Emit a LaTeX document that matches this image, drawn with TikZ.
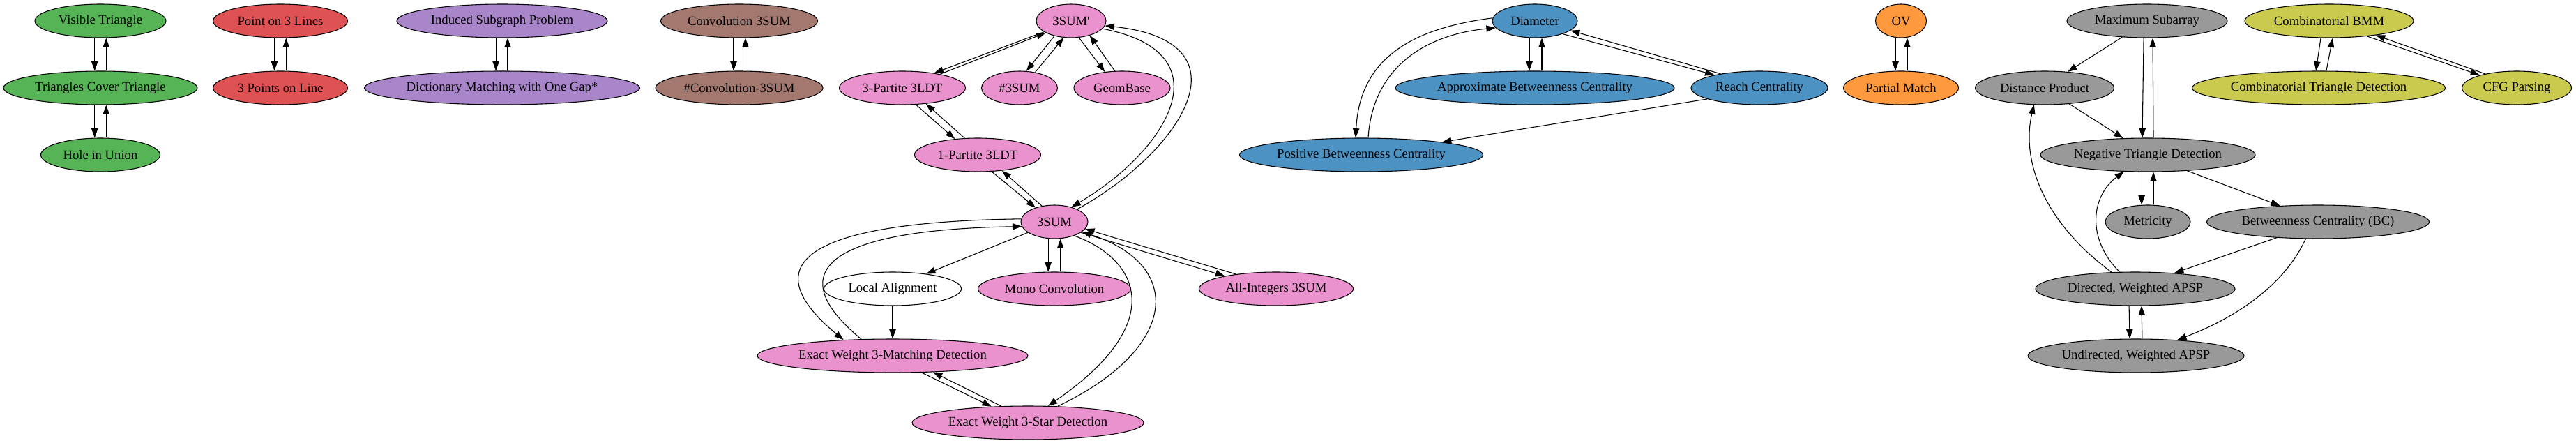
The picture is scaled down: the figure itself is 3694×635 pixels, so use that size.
\documentclass[tikz,border=0pt]{standalone}
\usepackage{fontspec}
\setmainfont{Liberation Serif}
\usepackage{tikz}
\usetikzlibrary{arrows.meta,shapes.geometric}

\definecolor{grn}{RGB}{86,179,86}
\definecolor{rd}{RGB}{222,82,83}
\definecolor{prp}{RGB}{169,133,202}
\definecolor{brn}{RGB}{163,120,111}
\definecolor{pnk}{RGB}{233,146,206}
\definecolor{blu}{RGB}{76,146,195}
\definecolor{org}{RGB}{255,153,62}
\definecolor{gry}{RGB}{153,153,153}
\definecolor{olv}{RGB}{201,202,78}

\begin{document}
\begin{tikzpicture}[>={Triangle[length=10pt,width=7pt]}, x=0.75pt, y=-0.75pt, line width=0.8pt,
		prob/.style={ellipse, draw, inner sep=0pt, minimum height=36pt, font=\fontsize{14}{16}\selectfont},
		fam/.style={prob, fill=#1},
		wd/.style={minimum width=#1*0.75pt}]
		\useasboundingbox (0,0) rectangle (3694,635);
		%\draw [help lines] (0,0) grid[step=96] (3694,635);
		% green
		\node[fam=grn, wd=188] (vis) at (144,30) {Visible Triangle};
		\node[fam=grn, wd=278] (tcov) at (144,126) {Triangles Cover Triangle};
		\node[fam=grn, wd=171] (hole) at (144,222) {Hole in Union};
		% red
		\node[fam=rd, wd=193] (pt3) at (402,30) {Point on 3 Lines};
		\node[fam=rd, wd=193] (pts3) at (402,126) {3 Points on Line};
		% purple
		\node[fam=prp, wd=302] (isp) at (720,30) {Induced Subgraph Problem};
		\node[fam=prp, wd=395] (dmg) at (720,126) {Dictionary Matching with One Gap*};
		% brown
		\node[fam=brn, wd=225] (conv) at (1060,30) {Convolution 3SUM};
		\node[fam=brn, wd=240] (nconv) at (1060,126) {\#Convolution-3SUM};
		% pink
		\node[fam=pnk, wd=100] (sump) at (1536,30) {3SUM\textquotesingle};
		\node[fam=pnk, wd=181] (tpart) at (1294,126) {3-Partite 3LDT};
		\node[fam=pnk, wd=109] (nsum) at (1462,126) {\#3SUM};
		\node[fam=pnk, wd=138] (geom) at (1609,126) {GeomBase};
		\node[fam=pnk, wd=181] (opart) at (1402,222) {1-Partite 3LDT};
		\node[fam=pnk, wd=96] (sum) at (1512,318) {3SUM};
		\node[fam=white, wd=197] (local) at (1280,414) {Local Alignment};
		\node[fam=pnk, wd=219] (mono) at (1512,414) {Mono Convolution};
		\node[fam=pnk, wd=221] (allint) at (1830,414) {All-Integers 3SUM};
		\node[fam=pnk, wd=388] (match) at (1280,510) {Exact Weight 3-Matching Detection};
		\node[fam=pnk, wd=332] (star) at (1474,606) {Exact Weight 3-Star Detection};
		% blue
		\node[fam=blu, wd=122] (diam) at (2201,30) {Diameter};
		\node[fam=blu, wd=400] (abc) at (2201,126) {Approximate Betweenness Centrality};
		\node[fam=blu, wd=196] (reach) at (2523,126) {Reach Centrality};
		\node[fam=blu, wd=349] (pbc) at (1952,222) {Positive Betweenness Centrality};
		% orange
		\node[fam=org, wd=73] (ov) at (2726,30) {OV};
		\node[fam=org, wd=165] (pm) at (2726,126) {Partial Match};
		% gray
		\node[fam=gry, wd=230] (msa) at (3079,30) {Maximum Subarray};
		\node[fam=gry, wd=199] (dp) at (2932,126) {Distance Product};
		\node[fam=gry, wd=308] (ntd) at (3080,222) {Negative Triangle Detection};
		\node[fam=gry, wd=122] (met) at (3080,318) {Metricity};
		\node[fam=gry, wd=319] (bc) at (3324,318) {Betweenness Centrality (BC)};
		\node[fam=gry, wd=286] (dapsp) at (3062,414) {Directed, Weighted APSP};
		\node[fam=gry, wd=310] (uapsp) at (3063,510) {Undirected, Weighted APSP};
		% olive
		\node[fam=olv, wd=242] (bmm) at (3340,30) {Combinatorial BMM};
		\node[fam=olv, wd=363] (ctd) at (3325,126) {Combinatorial Triangle Detection};
		\node[fam=olv, wd=157] (cfg) at (3609,126) {CFG Parsing};

		% edges, left to right
		\draw [->] ([xshift=-6.2pt]vis.south) -- ([xshift=-6.2pt]tcov.north);
		\draw [->] ([xshift=6.2pt]tcov.north) -- ([xshift=6.2pt]vis.south);
		\draw [->] ([xshift=-6.2pt]tcov.south) -- ([xshift=-6.2pt]hole.north);
		\draw [->] ([xshift=6.2pt]hole.north) -- ([xshift=6.2pt]tcov.south);
		\draw [->] ([xshift=-6.4pt]pt3.south) -- ([xshift=-6.4pt]pts3.north);
		\draw [->] ([xshift=6.2pt]pts3.north) -- ([xshift=6.2pt]pt3.south);
		\draw [->] ([xshift=-6.7pt]isp.south) -- ([xshift=-6.7pt]dmg.north);
		\draw [->] ([xshift=6pt]dmg.north) -- ([xshift=6pt]isp.south);
		\draw [->] ([xshift=-6pt]conv.south) -- ([xshift=-6pt]nconv.north);
		\draw [->] ([xshift=6.7pt]nconv.north) -- ([xshift=6.7pt]conv.south);

		\draw [->] (sump.202) -- (tpart.25);
		\draw [->] (tpart.20) -- (sump.205);
		\draw [->] (sump.222) -- (nsum.68);
		\draw [->] (nsum.45) -- (sump.246);
		\draw [->] (sump.295) -- (geom.137);
		\draw [->] (geom.113) -- (sump.322);
		\draw [->] (tpart.309) -- (opart.145);
		\draw [->] (opart.128) -- (tpart.326);
		\draw [->] (opart.310) -- (sum.143);
		\draw [->] (sum.128) -- (opart.327);
		\draw [->] (sump.346) .. controls (1760,75) and (1675,215) .. (sum.41);
		\draw [->] (sum.29) .. controls (1690,220) and (1800,60) .. (sump.352);
		\draw [->] (sum.202) -- (local.24);
		\draw [->] ([xshift=-6.7pt]sum.south) -- ([xshift=-6.7pt]mono.north);
		\draw [->] ([xshift=6.5pt]mono.north) -- ([xshift=6.5pt]sum.south);
		\draw [->] (sum.338) -- (allint.166);
		\draw [->] (allint.160) -- (sum.347);
		\draw [->] (local) -- (match);
		\draw [->] (sum.175) .. controls (1150,318) and (1080,380) .. (match.162);
		\draw [->] (match.152) .. controls (1130,400) and (1160,330) .. (sum.188);
		\draw [->] (match.330) -- (star.156);
		\draw [->] (star.148) -- (match.338);
		\draw [->] (sum.325) .. controls (1630,370) and (1680,460) .. (star.40);
		\draw [->] (star.29) .. controls (1690,500) and (1700,380) .. (sum.340);

		\draw [->] (diam.176) .. controls (2030,40) and (1950,80) .. ([xshift=-6pt]pbc.north);
		\draw [->] ([xshift=7.5pt]pbc.north) .. controls (1968,100) and (2040,50) .. (diam.190);
		\draw [->] ([xshift=-6pt]diam.south) -- ([xshift=-6pt]abc.north);
		\draw [->] ([xshift=7.5pt]abc.north) -- ([xshift=7.5pt]diam.south);
		\draw [->] (diam.335) -- (reach.164);
		\draw [->] (reach.160) -- (diam.345);
		\draw [->] (reach.192) -- (pbc.9);

		\draw [->] ([xshift=-6pt]ov.south) -- ([xshift=-6pt]pm.north);
		\draw [->] ([xshift=6.7pt]pm.north) -- ([xshift=6.7pt]ov.south);

		\draw [->] (msa.213) -- (dp.35);
		\draw [->] ([xshift=-3.7pt]msa.south) -- ([xshift=-6pt]ntd.north);
		\draw [->] ([xshift=6pt]ntd.north) -- ([xshift=6pt]msa.south);
		\draw [->] (dp.327) -- (ntd.146);
		\draw [->] ([xshift=-6.7pt]ntd.south) -- ([xshift=-6.7pt]met.north);
		\draw [->] ([xshift=6pt]met.north) -- ([xshift=6pt]ntd.south);
		\draw [->] (ntd.338) -- (bc.157);
		\draw [->] (bc.201) -- (dapsp.22);
		\draw [->] (bc.234) .. controls (3280,400) and (3220,450) .. (uapsp.21);
		\draw [->] (dapsp.145) .. controls (2920,310) and (2900,220) .. (dp.238);
		\draw [->] (dapsp.133) .. controls (2990,340) and (3000,280) .. (ntd.215);
		\draw [->] ([xshift=-6.7pt]dapsp.south) -- ([xshift=-6.7pt]uapsp.north);
		\draw [->] ([xshift=6.7pt]uapsp.north) -- ([xshift=6.7pt]dapsp.south);

		\draw [->] ([xshift=-9pt]bmm.south) -- ([xshift=-3pt]ctd.north);
		\draw [->] ([xshift=8.2pt]ctd.north) -- ([xshift=3.7pt]bmm.south);
		\draw [->] (bmm.338) -- (cfg.161);
		\draw [->] (cfg.156) -- (bmm.343);
	\end{tikzpicture}
\end{document}
